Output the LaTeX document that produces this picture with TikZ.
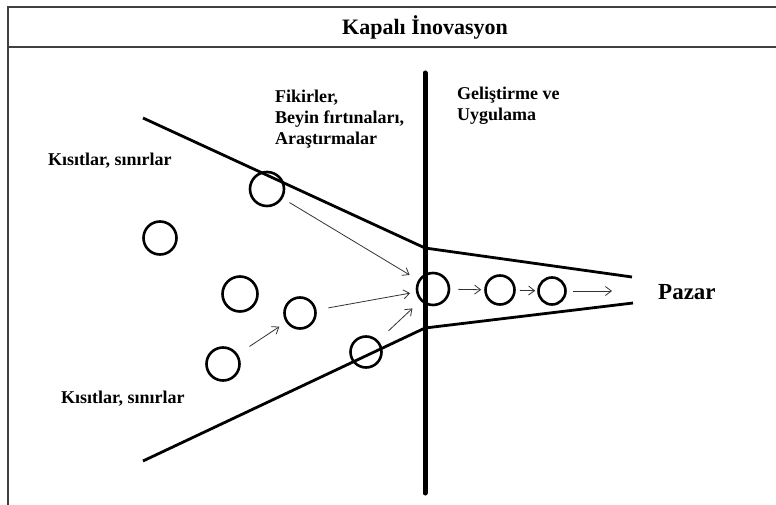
\documentclass[tikz,border=0pt]{standalone}
\usepackage{fontspec}
\setmainfont{Liberation Serif}
\usetikzlibrary{arrows.meta}
\begin{document}
\begin{tikzpicture}[x=1pt,y=-1pt,
  frameline/.style={draw=black!75,line width=1.8pt},
  funnel/.style={draw=black,line width=2.8pt,line join=round},
  divider/.style={draw=black,line width=5pt,line cap=round},
  ball/.style={circle,draw=black,line width=2.6pt,inner sep=0pt,minimum size=#1},
  flow/.style={draw=black!80,line width=0.8pt,-{Straight Barb[length=6pt,width=9pt,line width=0.8pt]}},
  lbl/.style={font=\bfseries\fontsize{18}{21}\selectfont,inner sep=0pt,align=left,anchor=west}
]
\useasboundingbox (0,0) rectangle (776,505);
% frame
\draw[frameline] (8,505) -- (8,7) -- (780,7);
\draw[frameline] (8,47) -- (780,47);
\node[font=\bfseries\fontsize{22}{26}\selectfont,inner sep=0pt] (title) at (425,27) {Kapalı İnovasyon};
% funnel
\coordinate (u1) at (143,118);
\coordinate (u2) at (425,248);
\coordinate (u3) at (632,277);
\coordinate (l1) at (143,461);
\coordinate (l2) at (425,328);
\coordinate (l3) at (633,303);
\draw[funnel] (u1) -- (u2) -- (u3);
\draw[funnel] (l1) -- (l2) -- (l3);
\coordinate (vtop) at (425,73);
\coordinate (vbot) at (425,493);
\draw[divider] (vtop) -- (vbot);
% circles
\node[ball=34pt] (c1) at (267,189) {};
\node[ball=33pt] (c2) at (160,238) {};
\node[ball=35pt] (c3) at (240,294) {};
\node[ball=31pt] (c4) at (300,313) {};
\node[ball=33pt] (c5) at (223,364) {};
\node[ball=31pt] (c6) at (366,352) {};
\node[ball=32pt] (c7) at (433,289) {};
\node[ball=29pt] (c8) at (500,290) {};
\node[ball=27pt] (c9) at (552,291) {};
\coordinate (mk) at (612,291);
% arrows
\draw[flow,shorten <=8pt,shorten >=10pt] (c1) -- (c7);
\draw[flow,shorten <=12pt,shorten >=6pt] (c4) -- (c7);
\draw[flow,shorten <=14pt,shorten >=11pt] (c6) -- (c7);
\draw[flow,shorten <=14pt,shorten >=8pt] (c5) -- (c4);
\draw[flow,shorten <=8pt,shorten >=3pt] (c7) -- (c8);
\draw[flow,shorten <=4pt,shorten >=2pt] (c8) -- (c9);
\draw[flow,shorten <=6pt] (c9) -- (mk);
% labels
\node[lbl] (k1) at (48,161) {Kısıtlar, sınırlar};
\node[lbl] (k2) at (61,399) {Kısıtlar, sınırlar};
\node[lbl] (fik) at (275,119) {Fikirler,\\Beyin fırtınaları,\\Araştırmalar};
\node[lbl] (gel) at (457,106) {Geliştirme ve\\Uygulama};
\node[lbl,font=\bfseries\fontsize{23}{27}\selectfont] (pazar) at (658,292) {Pazar};
\end{tikzpicture}
\end{document}
